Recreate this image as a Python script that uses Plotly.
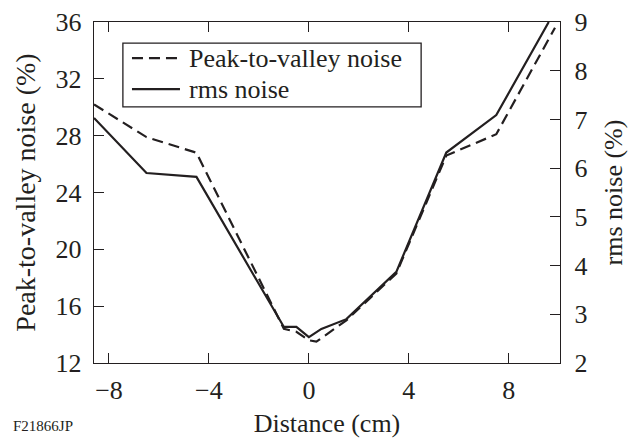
import plotly.graph_objects as go

# Data
x_pv = [-8.6, -6.5, -4.5, -1.0, -0.5, 0.0, 0.3, 1.5, 3.5, 5.5, 7.5, 9.85]
pv_noise = [30.2, 27.9, 26.8, 14.4, 14.2, 13.6, 13.5, 15.0, 18.3, 26.6, 28.1, 35.6]

x_rms = [-8.6, -6.5, -4.5, -1.0, -0.5, 0.0, 0.5, 1.5, 3.5, 5.5, 7.5, 9.6]
rms_noise = [7.03, 5.9, 5.82, 2.74, 2.74, 2.53, 2.7, 2.9, 3.87, 6.32, 7.09, 9.0]

series_names = ["Peak-to-valley noise", "rms noise"]

x_ticks = [-8, -4, 0, 4, 8]
x_tick_labels = ["\u22128", "\u22124", "0", "4", "8"]
y1_ticks = [12, 16, 20, 24, 28, 32, 36]
y2_ticks = [2, 3, 4, 5, 6, 7, 8, 9]

FONT = "Liberation Serif, Times New Roman, serif"
INK = "#231f20"
FS = 26
DASH = "11px,6px"

fig = go.Figure()
fig.add_trace(go.Scatter(
    x=x_pv, y=pv_noise, mode="lines", name=series_names[0],
    line=dict(color=INK, width=2.2, dash=DASH), yaxis="y"))
fig.add_trace(go.Scatter(
    x=x_rms, y=rms_noise, mode="lines", name=series_names[1],
    line=dict(color=INK, width=2.2), yaxis="y2"))

# Hand-built legend box (positions in paper coordinates)
legend_box = dict(x0=0.062, x1=0.702, y0=0.751, y1=0.938)
row_y = [0.894, 0.803]
sample_x = (0.0815, 0.1845)
text_x = 0.199

shapes = [dict(type="rect", xref="paper", yref="paper",
               x0=legend_box["x0"], x1=legend_box["x1"],
               y0=legend_box["y0"], y1=legend_box["y1"],
               line=dict(color=INK, width=1.3), fillcolor="white", layer="above")]
shapes.append(dict(type="line", xref="paper", yref="paper",
                   x0=sample_x[0], x1=sample_x[1], y0=row_y[0], y1=row_y[0],
                   line=dict(color=INK, width=2.2, dash=DASH), layer="above"))
shapes.append(dict(type="line", xref="paper", yref="paper",
                   x0=sample_x[0], x1=sample_x[1], y0=row_y[1], y1=row_y[1],
                   line=dict(color=INK, width=2.2), layer="above"))

annotations = [dict(text=series_names[i], xref="paper", yref="paper",
                    x=text_x, y=row_y[i], xanchor="left", yanchor="middle",
                    showarrow=False, font=dict(family=FONT, size=FS, color=INK))
               for i in range(2)]
annotations.append(dict(
    text="F21866JP", xref="paper", yref="paper", x=-0.175, y=-0.212,
    xanchor="left", yanchor="bottom", showarrow=False,
    font=dict(family=FONT, size=15, color=INK), borderpad=0))

fig.update_layout(
    width=628, height=438,
    margin=dict(l=94, r=68, t=22, b=75, autoexpand=False),
    paper_bgcolor="white", plot_bgcolor="white",
    font=dict(family=FONT, size=FS, color=INK),
    showlegend=False,
    shapes=shapes,
    annotations=annotations,
    xaxis=dict(
        range=[-8.6, 10.05], tickmode="array", tickvals=x_ticks, ticktext=x_tick_labels,
        ticks="inside", ticklen=10, tickwidth=1.2, tickcolor=INK,
        showline=True, linecolor=INK, linewidth=1.4, mirror="ticks",
        showgrid=False, zeroline=False, ticklabelstandoff=4, automargin=False,
        tickfont=dict(family=FONT, size=FS),
        title=dict(text="Distance (cm)", font=dict(family=FONT, size=FS), standoff=26),
    ),
    yaxis=dict(
        range=[12, 36], tickmode="array", tickvals=y1_ticks,
        ticks="inside", ticklen=10, tickwidth=1.2, tickcolor=INK,
        showline=True, linecolor=INK, linewidth=1.4,
        showgrid=False, zeroline=False, ticklabelstandoff=6, automargin=False,
        tickfont=dict(family=FONT, size=FS),
        title=dict(text="Peak-to-valley noise (%)", font=dict(family=FONT, size=28), standoff=11),
    ),
    yaxis2=dict(
        range=[2, 9], tickmode="array", tickvals=y2_ticks,
        overlaying="y", side="right",
        ticks="inside", ticklen=10, tickwidth=1.2, tickcolor=INK,
        showline=True, linecolor=INK, linewidth=1.4,
        showgrid=False, zeroline=False, ticklabelstandoff=8, automargin=False,
        tickfont=dict(family=FONT, size=FS),
        title=dict(text="rms noise (%)", font=dict(family=FONT, size=FS), standoff=20),
    ),
)

fig.write_html("out.html")
